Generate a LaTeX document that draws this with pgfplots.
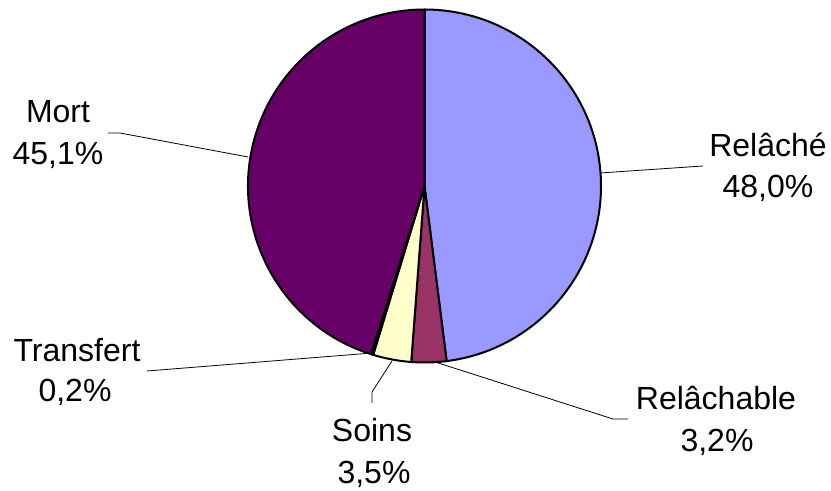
\documentclass[border=0pt]{standalone}
\usepackage{pgfplots}
\pgfplotsset{compat=1.18}
\usepackage{fontspec}
\setmainfont{Liberation Sans}
\definecolor{cRelache}{HTML}{9999FF}
\definecolor{cRelachable}{HTML}{993366}
\definecolor{cSoins}{HTML}{FFFFCC}
\definecolor{cTransfert}{HTML}{CCFFFF}
\definecolor{cMort}{HTML}{660066}
% values (percent)
\def\vRelache{48.0}
\def\vRelachable{3.2}
\def\vSoins{3.5}
\def\vTransfert{0.2}
\def\vMort{45.1}
\pgfmathsetmacro\aA{90}
\pgfmathsetmacro\aB{\aA-\vRelache*3.6}
\pgfmathsetmacro\aC{\aB-\vRelachable*3.6}
\pgfmathsetmacro\aD{\aC-\vSoins*3.6}
\pgfmathsetmacro\aE{\aD-\vTransfert*3.6}
\pgfmathsetmacro\aF{\aE-\vMort*3.6}
\def\cx{424.5}
\def\cy{305}
\def\R{176.5}
\begin{document}
\begin{tikzpicture}
\begin{axis}[
  scale only axis, width=831bp, height=491bp,
  xmin=0, xmax=831, ymin=0, ymax=491,
  hide axis, clip=false,
]
\path (rel axis cs:0,0) rectangle (rel axis cs:1,1);
\tikzset{slice/.style={draw=black, line width=2bp, line join=round}}
\filldraw[slice, fill=cRelache] (axis cs:\cx,\cy) -- ++(\aA:\R bp) arc[start angle=\aA, end angle=\aB, radius=\R bp] -- cycle;
\filldraw[slice, fill=cRelachable] (axis cs:\cx,\cy) -- ++(\aB:\R bp) arc[start angle=\aB, end angle=\aC, radius=\R bp] -- cycle;
\filldraw[slice, fill=cSoins] (axis cs:\cx,\cy) -- ++(\aC:\R bp) arc[start angle=\aC, end angle=\aD, radius=\R bp] -- cycle;
\filldraw[slice, fill=cTransfert] (axis cs:\cx,\cy) -- ++(\aD:\R bp) arc[start angle=\aD, end angle=\aE, radius=\R bp] -- cycle;
\filldraw[slice, fill=cMort] (axis cs:\cx,\cy) -- ++(\aE:\R bp) arc[start angle=\aE, end angle=\aF, radius=\R bp] -- cycle;
% leader lines
\draw[line width=0.8bp] (axis cs:108,358) -- (axis cs:120,358) -- (axis cs:248,334);
\draw[line width=0.8bp] (axis cs:600,318) -- (axis cs:703,325);
\draw[line width=0.8bp] (axis cs:147,120) -- (axis cs:372,138);
\draw[line width=0.8bp] (axis cs:372,88) -- (axis cs:372,99) -- (axis cs:392,130);
\draw[line width=0.8bp] (axis cs:432,130) -- (axis cs:613,72) -- (axis cs:628,72);
% labels
\tikzset{lab/.style={anchor=base, inner sep=0pt, font=\fontsize{32bp}{38bp}\selectfont}}
\node[lab] at (axis cs:58,368) {Mort};
\node[lab] at (axis cs:58,326) {45,1\%};
\node[lab] at (axis cs:768,334) {Relâché};
\node[lab] at (axis cs:768,293) {48,0\%};
\node[lab] at (axis cs:77,129) {Transfert};
\node[lab] at (axis cs:75,89) {0,2\%};
\node[lab] at (axis cs:372,49) {Soins};
\node[lab] at (axis cs:374,8) {3,5\%};
\node[lab] at (axis cs:716,81) {Relâchable};
\node[lab] at (axis cs:717,39) {3,2\%};
\end{axis}
\end{tikzpicture}
\end{document}
